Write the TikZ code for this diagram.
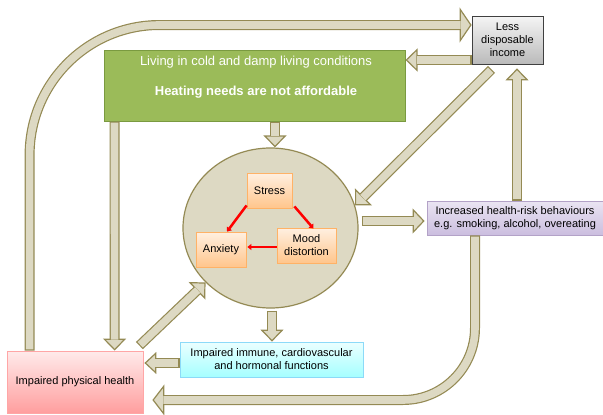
\documentclass[tikz,border=0pt]{standalone}
\usepackage{fontspec}
\setmainfont{Liberation Sans}
\usepackage{xcolor}
\usetikzlibrary{shapes.geometric,arrows.meta,calc,shadows}

\definecolor{arrfill}{HTML}{DDD9C3}
\definecolor{arrline}{HTML}{948A54}
\definecolor{coldgreen}{HTML}{9BBB59}
\definecolor{coldline}{HTML}{7A9A40}
\definecolor{lavtop}{HTML}{EAE4F2}
\definecolor{lavbot}{HTML}{CBBEDF}
\definecolor{lavline}{HTML}{B3A2C7}

\tikzset{
    box/.style={rectangle, inner sep=0pt, align=center, line width=0.8pt,
        font=\fontsize{11}{13}\selectfont,
        drop shadow={shadow xshift=1.2pt, shadow yshift=-1.2pt, opacity=0.2}},
    graybox/.style={box, draw=black!75, top color=black!4, bottom color=black!27},
    orangebox/.style={box, draw=orange!60, top color=orange!12, bottom color=orange!45},
    purplebox/.style={box, draw=lavline, top color=lavtop, bottom color=lavbot},
    bluebox/.style={box, draw=cyan!45, top color=cyan!8, bottom color=cyan!35},
    pinkbox/.style={box, draw=red!35, top color=red!8, bottom color=red!38},
    whitetext/.style={text=white, inner sep=0pt, font=\fontsize{13}{15}\selectfont},
    redarrow/.style={red, line width=2.5pt, -{Triangle[length=4pt,width=6pt]}}
}

% fat arrow: outline with tip, then the lighter body on top
% #2 = width of the head
\newcommand{\fatarrow}[3][]{%
    \draw[arrline, line width=10pt, #1,
        -{Triangle[length=12pt,width=#2,fill=arrfill,line width=1.2pt]}] #3;
    \draw[arrfill, line width=7.6pt, #1, shorten <=1.2pt, shorten >=11pt] #3;}

\begin{document}
\begin{tikzpicture}[x=1pt, y=-1pt]
    \useasboundingbox (0,0) rectangle (603,415);

    % Boxes
    \node[graybox, minimum width=71pt, minimum height=48pt] (less) at (507.5,40) {Less\\disposable\\income};
    \node[rectangle, draw=coldline, fill=coldgreen, line width=1pt, minimum width=301pt, minimum height=71pt] (cold) at (254.5,85.5) {};
    \node[whitetext] (coldtxt) at ($(cold.north)+(1.5,13)$) {Living in cold and damp living conditions};
    \node[whitetext, font=\fontsize{13}{15}\selectfont\bfseries] (heattxt) at ($(cold.north)+(1.5,43)$) {Heating needs are not affordable};

    % Circle with the three feelings
    \node[ellipse, draw=arrline, fill=arrfill, line width=1.2pt, inner sep=0pt,
        minimum width=175pt, minimum height=160pt] (mind) at (270.5,228) {};
    \node[orangebox, minimum width=45pt, minimum height=35pt] (stress) at (269.5,190.5) {Stress};
    \node[orangebox, minimum width=50pt, minimum height=35pt] (anx) at (221,249.5) {Anxiety};
    \node[orangebox, minimum width=59pt, minimum height=35pt] (mood) at (306.5,245.5) {Mood\\distortion};

    \node[purplebox, minimum width=176pt, minimum height=34pt] (risk) at (515,218) {Increased health-risk behaviours\\e.g. smoking, alcohol, overeating};
    \node[bluebox, minimum width=183pt, minimum height=35pt] (immune) at (271.5,359.5) {Impaired immune, cardiovascular\\and hormonal functions};
    \node[pinkbox, minimum width=136pt, minimum height=62pt] (phys) at (75,382) {Impaired physical health};

    % Red arrows
    \draw[redarrow] ($(stress.south west)+(0,-3)$) -- ($(anx.north)+(6,0)$);
    \draw[redarrow] ($(stress.south east)+(2,-2)$) -- ($(mood.north)+(7,1)$);
    \draw[redarrow] ($(mood.west)+(0,1.5)$) -- ($(anx.east)+(1,-2.5)$);

    % Fat arrows
    \fatarrow[rounded corners=130pt]{35pt}{($(phys.north west)+(23,0)$) |- ($(less.west)+(0,-15)$)}
    \fatarrow{23pt}{($(less.west)+(0,20)$) -- ($(cold.east)+(0,-25.5)$)}
    \fatarrow{23pt}{($(cold.south)+(20.5,0)$) -- ($(mind.north)+(4.5,0)$)}
    \fatarrow{24pt}{($(less.south)+(-16,5)$) -- (mind.15)}
    \fatarrow{23pt}{($(risk.north)+(2,0)$) -- ($(less.south)+(9.5,4)$)}
    \fatarrow{25pt}{($(mind.east)+(3,-7)$) -- ($(risk.west)+(-2,3)$)}
    \fatarrow{23pt}{($(mind.south)+(1.5,2)$) -- ($(immune.north)+(0.5,0)$)}
    \fatarrow{22pt}{($(immune.west)+(0,3.5)$) -- ($(phys.east)+(1,-19)$)}
    \fatarrow{24pt}{($(phys.north east)+(-4,-5)$) -- (mind.220)}
    \fatarrow{23pt}{($(cold.south west)+(11,0)$) -- ($(phys.north west)+(108,0)$)}
    \fatarrow[rounded corners=72pt]{31pt}{($(risk.south)+(-40,0)$) |- ($(phys.east)+(9,18)$)}
\end{tikzpicture}
\end{document}
